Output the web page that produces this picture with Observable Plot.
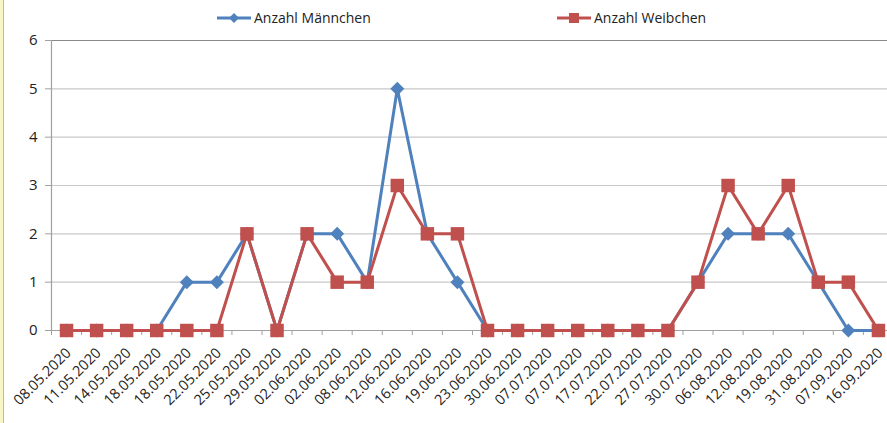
<!DOCTYPE html>
<html>
<head>
<meta charset="utf-8">
<script src="https://cdn.jsdelivr.net/npm/d3@7"></script>
<script src="https://cdn.jsdelivr.net/npm/@observablehq/plot@0.6"></script>
<style>
  body { margin: 0; background: #fff; font-family: "Open Sans", sans-serif; }
  #wrap { position: relative; width: 887px; height: 423px; overflow: hidden; }
  #stripe { position: absolute; left: 0; top: 0; width: 3px; height: 423px; background: #f8f6c4; border-right: 1px solid #b8b8b8; }
  .leg { position: absolute; top: 8px; font-size: 14px; color: #222; display: flex; align-items: center; }
  .leg svg { margin-right: 3px; }
  #chart { position: absolute; left: 0; top: 0; }
</style>
</head>
<body>
<div id="wrap">
  <div id="chart"></div>
  <div id="stripe"></div>
  <div class="leg" style="left:217px">
    <svg width="34" height="16"><line x1="0" y1="8" x2="34" y2="8" stroke="#4F81BD" stroke-width="3"/><path d="M17,3 L22,8 L17,13 L12,8 Z" fill="#4F81BD"/></svg>
    <span>Anzahl Männchen</span>
  </div>
  <div class="leg" style="left:557px">
    <svg width="34" height="16"><line x1="0" y1="8" x2="34" y2="8" stroke="#C0504D" stroke-width="3"/><rect x="12" y="3" width="10" height="10" fill="#C0504D"/></svg>
    <span>Anzahl Weibchen</span>
  </div>
</div>
<script>
const dates = ["08.05.2020","11.05.2020","14.05.2020","18.05.2020","18.05.2020","22.05.2020","25.05.2020","29.05.2020","02.06.2020","02.06.2020","08.06.2020","12.06.2020","16.06.2020","19.06.2020","23.06.2020","30.06.2020","07.07.2020","07.07.2020","17.07.2020","22.07.2020","27.07.2020","30.07.2020","06.08.2020","12.08.2020","19.08.2020","31.08.2020","07.09.2020","16.09.2020"];
const maennchen = [0,0,0,0,1,1,2,0,2,2,1,5,2,1,0,0,0,0,0,0,0,1,2,2,2,1,0,0];
const weibchen  = [0,0,0,0,0,0,2,0,2,1,1,3,2,2,0,0,0,0,0,0,0,1,3,2,3,1,1,0];
const yTicks = [0,1,2,3,4,5,6];

const blue = "#4F81BD", red = "#C0504D";
const m = dates.map((d, i) => ({i, v: maennchen[i]}));
const w = dates.map((d, i) => ({i, v: weibchen[i]}));
const n = dates.length;

const chart = Plot.plot({
  width: 887,
  height: 423,
  marginTop: 40,
  marginBottom: 93,
  marginLeft: 51,
  marginRight: 0,
  style: {fontFamily: "Open Sans, sans-serif", fontSize: "13px", color: "#222", background: "transparent", overflow: "visible"},
  x: {type: "linear", domain: [-0.5, n - 0.5], range: [51, 51 + n * 30.07]},
  y: {domain: [0, 6]},
  marks: [
    Plot.ruleY(yTicks.filter(t => t > 0 && t < 6), {stroke: "#c8c8c8", strokeWidth: 1.2}),
    Plot.ruleY([6], {stroke: "#8a8a8a", strokeWidth: 1.2}),
    Plot.ruleY([0], {stroke: "#a0a0a0", strokeWidth: 1.2}),
    Plot.ruleX([-0.5], {stroke: "#a0a0a0", strokeWidth: 1.2}),
    Plot.axisY({ticks: yTicks, tickSize: 6, tickPadding: 8, tickFormat: d3.format("d"), stroke: "#a0a0a0", label: null, fontSize: 15}),
    Plot.axisX({ticks: d3.range(n + 1).map(i => i - 0.5), tickSize: 5, tickFormat: () => "", stroke: "#a0a0a0", label: null}),
    Plot.axisX({ticks: d3.range(n), tickSize: 0, tickFormat: i => dates[i], tickRotate: -45, tickPadding: 20, dx: 2, label: null, fontSize: 14.5}),
    Plot.line(m, {x: "i", y: "v", stroke: blue, strokeWidth: 3}),
    Plot.dot(m, {x: "i", y: "v", symbol: "diamond2", r: 6.3, fill: blue, stroke: "none"}),
    Plot.line(w, {x: "i", y: "v", stroke: red, strokeWidth: 3}),
    Plot.dot(w, {x: "i", y: "v", symbol: "square", r: 7.6, fill: red, stroke: "none"})
  ]
});
document.getElementById("chart").appendChild(chart);
</script>
</body>
</html>
